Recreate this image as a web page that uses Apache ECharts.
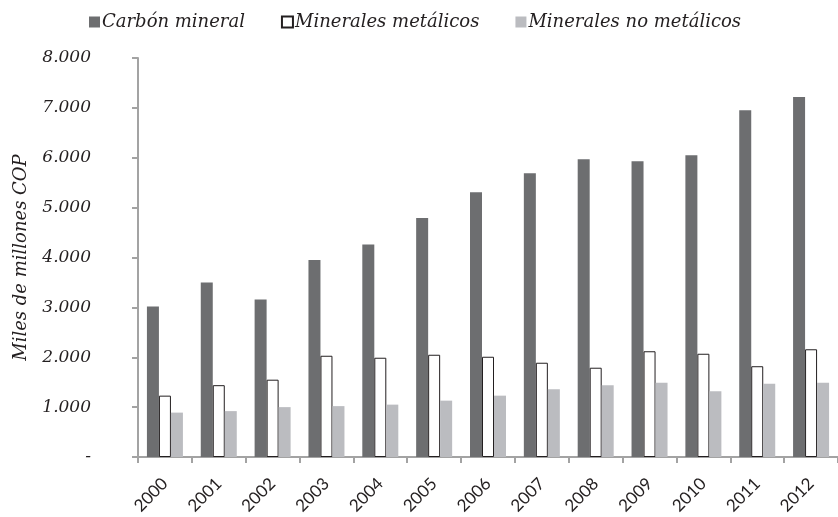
<!DOCTYPE html>
<html>
<head>
<meta charset="utf-8">
<script src="https://cdn.jsdelivr.net/npm/echarts@6/dist/echarts.min.js"></script>
<style>
  html, body { margin: 0; padding: 0; background: #fff; }
  #chart { width: 838px; height: 517px; }
</style>
</head>
<body>
<div id="chart"></div>
<script>
  // datos (miles de millones COP)
  var years = ['2000', '2001', '2002', '2003', '2004', '2005', '2006', '2007', '2008', '2009', '2010', '2011', '2012'];
  var carbon = [3020, 3500, 3160, 3950, 4260, 4790, 5310, 5690, 5970, 5930, 6050, 6950, 7220];
  var metalicos = [1230, 1440, 1550, 2030, 1990, 2050, 2010, 1890, 1790, 2120, 2070, 1820, 2160];
  var noMetalicos = [890, 920, 1000, 1020, 1050, 1130, 1230, 1360, 1440, 1490, 1320, 1470, 1490];
  var seriesNames = ['Carbón mineral', 'Minerales metálicos', 'Minerales no metálicos'];

  var serif = '"DejaVu Serif", "Liberation Serif", serif';
  var axisGray = '#a3a3a3';

  function fmtMiles(v) {
    if (v === 0) return '-';
    return String(v).replace(/\B(?=(\d{3})+(?!\d))/g, '.');
  }

  var chart = echarts.init(document.getElementById('chart'));
  var option = {
    animation: false,
    legend: {
      top: 8,
      left: 84,
      itemWidth: 11,
      itemHeight: 11,
      itemGap: 36,
      textStyle: { fontFamily: serif, fontStyle: 'italic', fontSize: 18, color: '#231f20', padding: [0, 0, 0, -3] },
      data: [
        { name: seriesNames[0], icon: 'rect' },
        { name: seriesNames[1], icon: 'rect' },
        { name: seriesNames[2], icon: 'rect' }
      ]
    },
    grid: { left: 138, right: 0, top: 58, bottom: 60, containLabel: false, outerBoundsMode: 'none' },
    xAxis: {
      type: 'category',
      data: years,
      axisLine: { lineStyle: { color: axisGray, width: 2 } },
      axisTick: { show: true, length: 6, lineStyle: { color: axisGray, width: 2 } },
      axisLabel: {
        rotate: 45,
        margin: 24,
        fontFamily: 'Lato, "Open Sans", sans-serif',
        fontSize: 17,
        color: '#231f20'
      }
    },
    yAxis: {
      type: 'value',
      min: 0,
      max: 8000,
      interval: 1000,
      name: 'Miles de millones COP',
      nameLocation: 'middle',
      nameGap: 108,
      nameTextStyle: { fontFamily: serif, fontStyle: 'italic', fontSize: 18, color: '#231f20' },
      splitLine: { show: false },
      axisLine: { show: true, lineStyle: { color: axisGray, width: 2 } },
      axisTick: { show: true, length: 6, lineStyle: { color: axisGray, width: 2 } },
      axisLabel: {
        margin: 47,
        formatter: fmtMiles,
        fontFamily: serif,
        fontStyle: 'italic',
        fontSize: 17,
        color: '#231f20'
      }
    },
    series: [
      {
        name: seriesNames[0],
        type: 'bar',
        data: carbon,
        barWidth: 12,
        barGap: '0%',
        itemStyle: { color: '#6d6e70' }
      },
      {
        name: seriesNames[1],
        type: 'bar',
        data: metalicos,
        barWidth: 12,
        barGap: '0%',
        itemStyle: { color: '#ffffff', borderColor: '#231f20', borderWidth: 1 }
      },
      {
        name: seriesNames[2],
        type: 'bar',
        data: noMetalicos,
        barWidth: 12,
        barGap: '0%',
        itemStyle: { color: '#bbbcc0' }
      }
    ]
  };
  chart.setOption(option);
</script>
</body>
</html>
